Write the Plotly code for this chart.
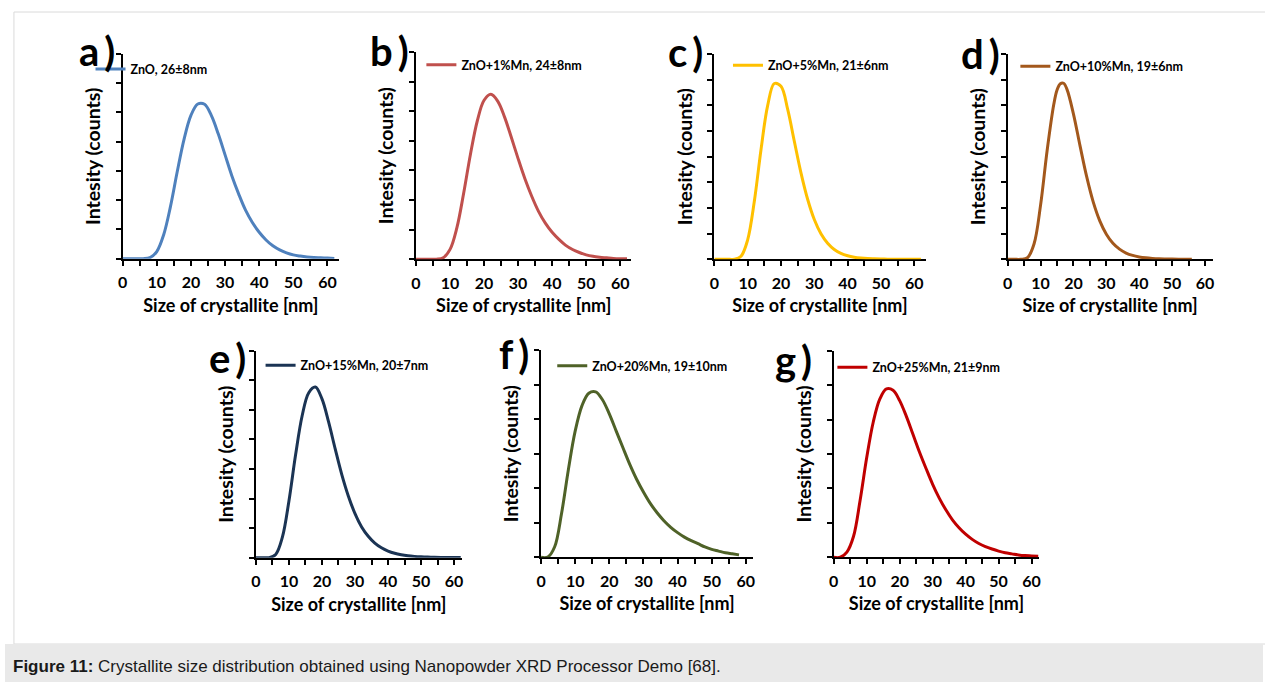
import plotly.graph_objects as go

W, H = 1265, 682

# ---------------- data ----------------
X_62 = [0, 2, 4, 6, 8, 10, 12, 14, 16, 18, 20, 22, 24, 26, 28, 30,
        32, 34, 36, 38, 40, 42, 44, 46, 48, 50, 52, 54, 56, 58, 60, 62]
X_58 = [0, 2, 4, 6, 8, 10, 12, 14, 16, 18, 20, 22, 24, 26, 28, 30,
        32, 34, 36, 38, 40, 42, 44, 46, 48, 50, 52, 54, 56, 58]
X_D = [0, 2, 4, 6, 8, 10, 12, 14, 15, 16, 17, 18, 20, 22, 24, 26, 28, 30,
       32, 34, 36, 38, 40, 42, 44, 46, 48, 50, 52, 54, 56]

Y_A = [0, 0, 0, 0.002, 0.037, 0.245, 0.813, 1.78, 2.98, 4.09, 4.90, 5.29,
       5.28, 4.89, 4.27, 3.55, 2.83, 2.21, 1.66, 1.24, 0.905, 0.64, 0.44,
       0.30, 0.20, 0.13, 0.09, 0.06, 0.04, 0.03, 0.02, 0.01]
Y_B = [0, 0, 0, 0.003, 0.053, 0.334, 1.06, 2.23, 3.55, 4.67, 5.37, 5.57,
       5.34, 4.81, 4.12, 3.40, 2.72, 2.13, 1.62, 1.22, 0.912, 0.672, 0.47,
       0.33, 0.23, 0.15, 0.10, 0.07, 0.05, 0.03, 0.02, 0.015]
Y_C = [0, 0, 0, 0.005, 0.12, 0.76, 2.26, 4.27, 5.99, 6.85, 6.74, 5.85,
       4.60, 3.37, 2.34, 1.55, 0.994, 0.625, 0.381, 0.231, 0.139, 0.082,
       0.049, 0.028, 0.017, 0.010, 0.006, 0.003, 0.002, 0.001, 0.001, 0]
Y_D = [0, 0, 0.001, 0.060, 0.596, 2.12, 4.25, 6.03, 6.60, 6.84, 6.86, 6.63,
       5.66, 4.42, 3.23, 2.24, 1.50, 0.98, 0.625, 0.396, 0.244, 0.151,
       0.093, 0.057, 0.035, 0.021, 0.013, 0.008, 0.005, 0.003, 0.002]
Y_E = [0, 0, 0.003, 0.111, 0.686, 1.92, 3.47, 4.80, 5.58, 5.77, 5.37, 4.59,
       3.68, 2.81, 2.08, 1.49, 1.04, 0.725, 0.493, 0.334, 0.226, 0.151,
       0.101, 0.067, 0.045, 0.030, 0.020, 0.013, 0.009, 0.006, 0.004, 0.003]
Y_F = [0, 0.009, 0.306, 1.26, 2.53, 3.65, 4.39, 4.75, 4.79, 4.56, 4.15, 3.66,
       3.17, 2.69, 2.26, 1.89, 1.56, 1.29, 1.06, 0.869, 0.714, 0.584, 0.480,
       0.393, 0.30, 0.23, 0.18, 0.13, 0.10, 0.07]
Y_G = [0, 0.001, 0.15, 0.603, 1.65, 2.89, 3.93, 4.60, 4.89, 4.85, 4.55, 4.10,
       3.58, 3.06, 2.58, 2.12, 1.72, 1.38, 1.09, 0.86, 0.67, 0.52, 0.40,
       0.31, 0.24, 0.18, 0.13, 0.10, 0.07, 0.05, 0.04, 0.03]

NAMES = ["ZnO, 26±8nm", "ZnO+1%Mn, 24±8nm", "ZnO+5%Mn, 21±6nm",
         "ZnO+10%Mn, 19±6nm", "ZnO+15%Mn, 20±7nm", "ZnO+20%Mn, 19±10nm",
         "ZnO+25%Mn, 21±9nm"]
LETTERS = ["a", "b", "c", "d", "e", "f", "g"]
X_TICKS = [0, 10, 20, 30, 40, 50, 60]
COLORS = ["#4f81bd", "#c0504d", "#ffc000", "#a3581c", "#1b3454", "#4f6228", "#c00000"]

SERIES = [(X_62, Y_A), (X_62, Y_B), (X_62, Y_C), (X_D, Y_D),
          (X_62, Y_E), (X_58, Y_F), (X_62, Y_G)]

# ---------------- layout geometry (pixels) ----------------
# x0 px of value 0, px per nm, x max, y top px, y bottom px, y max
GEOM = [
    (118.3, 3.433, 63.4, 54.0, 258.7, 7),
    (413.3, 3.422, 63.3, 52.0, 259.3, 7),
    (713.3, 3.350, 63.4, 54.0, 259.3, 8),
    (1008.3, 3.306, 62.3, 54.0, 259.3, 8),
    (252.3, 3.322, 62.3, 350.7, 557.7, 7),
    (539.0, 3.433, 62.1, 350.0, 557.3, 6),
    (833.3, 3.317, 62.3, 350.7, 557.3, 6),
]
LEG_POS = [(94, 69.3), (426.7, 65), (735, 65.7), (1024, 66.7),
           (265, 365.7), (558.3, 366), (840, 367.7)]
LAB_POS = [(113, 51), (408, 51), (704, 52), (1003, 54),
           (244, 358), (529, 354), (814, 360)]

FONT = "Lato"

fig = go.Figure()
layout = dict(
    width=W, height=H, margin=dict(l=0, r=0, t=0, b=0),
    paper_bgcolor="white", plot_bgcolor="rgba(0,0,0,0)",
    showlegend=True, annotations=[], shapes=[],
)

for i, ((xs, ys), name, color, g) in enumerate(zip(SERIES, NAMES, COLORS, GEOM)):
    n = i + 1
    sx = "" if n == 1 else str(n)
    leg = "legend" if n == 1 else f"legend{n}"
    fig.add_trace(go.Scatter(
        x=xs, y=ys, mode="lines", name=name,
        line=dict(color=color, width=3, shape="spline", smoothing=1),
        xaxis="x" + sx, yaxis="y" + sx, legend=leg, cliponaxis=False,
        hoverinfo="skip"))
    x0, ppu, xmax, ytop, ybot, ymax = g
    x1 = x0 + ppu * xmax
    layout["xaxis" + sx] = dict(
        domain=[x0 / W, x1 / W], range=[0, xmax], anchor="y" + sx,
        tickvals=X_TICKS, ticktext=[str(t) for t in X_TICKS],
        ticks="outside", ticklen=5, tickwidth=1.5, tickcolor="black",
        minor=dict(dtick=5, tick0=0, ticks="outside", ticklen=5,
                   tickwidth=1.5, tickcolor="black", showgrid=False),
        showline=True, linecolor="black", linewidth=2, showgrid=False,
        zeroline=False, layer="below traces", ticklabelstandoff=3,
        tickfont=dict(family=FONT, size=16, color="black", weight="bold"),
        title=dict(text="Size of crystallite [nm]", standoff=9,
                   font=dict(family=FONT, size=18, color="black", weight="bold")),
    )
    layout["yaxis" + sx] = dict(
        domain=[1 - ybot / H, 1 - ytop / H], range=[0, ymax], anchor="x" + sx,
        dtick=1, tick0=0, ticks="outside", ticklen=5, tickwidth=1.5,
        tickcolor="black", showticklabels=False,
        showline=True, linecolor="black", linewidth=2, showgrid=False,
        zeroline=False, layer="below traces",
        title=dict(text="Intesity (counts)", standoff=10,
                   font=dict(family=FONT, size=19.5, color="black", weight="bold")),
    )
    lx, ly = LEG_POS[i]
    layout[leg] = dict(
        x=(lx - 8) / W, y=1 - ly / H, xanchor="left", yanchor="middle",
        bgcolor="rgba(0,0,0,0)", borderwidth=0,
        font=dict(family=FONT, size=12.5, color="black", weight="bold"),
    )
    px, py = LAB_POS[i]
    layout["annotations"].append(dict(
        text=LETTERS[i] + "\u2009)", x=px / W, y=1 - py / H, xref="paper", yref="paper",
        xanchor="right", yanchor="middle", showarrow=False,
        font=dict(family=FONT, size=40, color="black", weight="bold")))

# frame and caption band
layout["shapes"].append(dict(type="rect", xref="paper", yref="paper",
                             x0=9 / W, x1=1.01, y0=1 - 644 / H, y1=1 - 12 / H,
                             line=dict(color="#dadada", width=1),
                             fillcolor="rgba(0,0,0,0)", layer="below"))
layout["shapes"].append(dict(type="rect", xref="paper", yref="paper",
                             x0=0, x1=1, y0=0, y1=1 - 644 / H,
                             line=dict(width=0), fillcolor="#e9e9e9", layer="below"))
layout["annotations"].append(dict(
    text="<b>Figure 11:</b> Crystallite size distribution obtained using Nanopowder XRD Processor Demo [68].",
    x=6 / W, y=1 - 666 / H, xref="paper", yref="paper", xanchor="left",
    yanchor="middle", showarrow=False,
    font=dict(family="Liberation Sans, Arial", size=17, color="#1a1a1a")))

fig.update_layout(**layout)
fig.write_html("out.html")
